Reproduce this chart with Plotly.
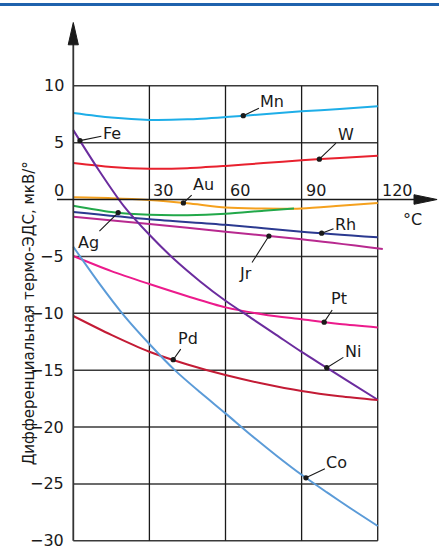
import numpy as np
import plotly.graph_objects as go

# ---------------- data ----------------
x_main = [0, 15, 30, 45, 60, 75, 90, 105, 120]
x_fine = [0, 10, 20, 30, 40, 50, 60, 70, 80, 90, 100, 110, 120]

mn_y = [7.6, 7.2, 7.0, 7.05, 7.25, 7.5, 7.75, 7.95, 8.2]
w_y = [3.2, 2.85, 2.7, 2.75, 2.95, 3.2, 3.45, 3.65, 3.85]
au_y = [0.19, 0.12, -0.04, -0.33, -0.7, -0.8, -0.78, -0.55, -0.3]
ag_x = [0, 15, 30, 45, 60, 75, 87]
ag_y = [-0.55, -1.1, -1.35, -1.38, -1.25, -0.98, -0.78]
rh_x = [0, 30, 60, 90, 120]
rh_y = [-1.1, -1.74, -2.22, -2.83, -3.32]
jr_x = [0, 30, 60, 90, 122]
jr_y = [-1.51, -2.15, -2.83, -3.5, -4.35]
pt_y = [-4.97, -6.3, -7.43, -8.5, -9.48, -10.1, -10.53, -10.95, -11.24]
ni_y = [6.1, 2.6, -0.6, -3.1, -5.3, -7.2, -8.9, -10.4, -11.9, -13.4, -14.8, -16.2, -17.6]
pd_y = [-10.24, -11.9, -13.38, -14.5, -15.43, -16.2, -16.84, -17.3, -17.63]
co_y = [-4.15, -7.3, -10.2, -12.7, -15.0, -16.95, -18.8, -20.7, -22.5, -24.2, -25.75, -27.25, -28.7]

x_ticks = [30, 60, 90, 120]
y_ticks = [10, 5, 0, -5, -10, -15, -20, -25, -30]
y_tick_labels = ["10", "5", "0", "−5", "−10", "−15", "−20", "−25", "−30"]

series = [
    # name, x, y, color, label pos (point x, text x, text y)
    ("Mn", x_main, mn_y, "#1eaee8", (67.0, 78.5, 8.6)),
    ("W", x_main, w_y, "#e8212e", (97.0, 107.3, 5.75)),
    ("Au", x_main, au_y, "#f5a11e", (43.4, 51.3, 1.35)),
    ("Ag", ag_x, ag_y, "#22a84a", (17.7, 5.9, -3.74)),
    ("Rh", rh_x, rh_y, "#2b3990", (97.9, 107.3, -2.18)),
    ("Jr", jr_x, jr_y, "#b8298f", (77.1, 67.7, -6.5)),
    ("Pt", x_main, pt_y, "#ec1b8c", (98.9, 104.9, -8.74)),
    ("Fe", x_fine, ni_y, "#6b2c9e", (2.64, 15.2, 5.76)),
    ("Pd", x_main, pd_y, "#c31b35", (39.4, 45.4, -12.18)),
    ("Co", x_fine, co_y, "#5b9bd8", (91.7, 103.9, -23.16)),
]
# Ni is the same curve as Fe, second label
ni_label = (99.9, 110.2, -13.36)

FONT = "DejaVu Sans"
TXT = "#1a1a1a"

XR = [-6.42, 143.76]
YR = [-30.37, 15.78]

fig = go.Figure()

for name, xs, ys, color, _ in series:
    fig.add_trace(go.Scatter(x=xs, y=ys, mode="lines",
                             line=dict(color=color, width=2, shape="spline", smoothing=0.8),
                             hoverinfo="skip", showlegend=False))

shapes = []
# horizontal grid
for v in y_ticks:
    if v == 0:
        continue
    shapes.append(dict(type="line", xref="x", yref="y", x0=0, x1=120, y0=v, y1=v,
                       line=dict(color="#3a3a3a", width=1.5), layer="below"))
# vertical grid
for v in x_ticks:
    shapes.append(dict(type="line", xref="x", yref="y", x0=v, x1=v, y0=-30, y1=10,
                       line=dict(color="#1a1a1a", width=1.3), layer="below"))
# y axis
shapes.append(dict(type="line", xref="x", yref="y", x0=0, x1=0, y0=-30, y1=14.0,
                   line=dict(color="#333333", width=1.8)))
shapes.append(dict(type="path", xref="x", yref="y",
                   path="M -2.0,13.6 L 0,15.56 L 2.0,13.6 Z",
                   fillcolor="#1a1a1a", line=dict(color="#1a1a1a", width=1)))
# x axis (zero line)
shapes.append(dict(type="line", xref="x", yref="y", x0=-6.4, x1=135, y0=0, y1=0,
                   line=dict(color="#1a1a1a", width=1.6)))
shapes.append(dict(type="path", xref="x", yref="y",
                   path="M 134.3,0.42 L 143.4,0 L 134.3,-0.42 Z",
                   fillcolor="#1a1a1a", line=dict(color="#1a1a1a", width=1)))
# blue band at top
shapes.append(dict(type="rect", xref="paper", yref="paper",
                   x0=-0.2, x1=1.2, y0=1.0265, y1=1.0325,
                   fillcolor="#1f62ad", line=dict(width=0)))

annotations = []
for v, t in zip(y_ticks, y_tick_labels):
    yy = 0.8 if v == 0 else v
    annotations.append(dict(x=-3.0, y=yy, xref="x", yref="y", text=t, showarrow=False,
                            xanchor="right", yanchor="middle",
                            font=dict(family=FONT, size=16, color=TXT)))
for v in x_ticks:
    annotations.append(dict(x=v + 0.8, y=0.75, xref="x", yref="y", text=str(v), showarrow=False,
                            xanchor="left", yanchor="middle",
                            font=dict(family=FONT, size=16, color=TXT)))
annotations.append(dict(x=133.9, y=-1.8, xref="x", yref="y", text="°C", showarrow=False,
                        font=dict(family=FONT, size=16, color=TXT)))

def add_label(name, xs, ys, pos):
    px, tx, ty = pos
    py = float(np.interp(px, xs, ys))
    annotations.append(dict(x=px, y=py, xref="x", yref="y", ax=tx, ay=ty,
                            axref="x", ayref="y", text=name, showarrow=True,
                            arrowhead=6, arrowsize=1.2, arrowwidth=1.1, arrowcolor=TXT,
                            font=dict(family=FONT, size=16, color=TXT)))

for name, xs, ys, color, pos in series:
    add_label(name, xs, ys, pos)
add_label("Ni", x_fine, ni_y, ni_label)

annotations.append(dict(x=-0.1013, y=0.442, xref="paper", yref="paper",
                        text="Дифференциальная термо-ЭДС, мкВ/°", showarrow=False,
                        textangle=-90, font=dict(family=FONT, size=15, color=TXT)))

fig.update_layout(
    width=439, height=549,
    margin=dict(l=57, r=1, t=20, b=4),
    paper_bgcolor="white", plot_bgcolor="white",
    xaxis=dict(range=XR, visible=False, fixedrange=True),
    yaxis=dict(range=YR, visible=False, fixedrange=True),
    shapes=shapes, annotations=annotations,
    showlegend=False,
)

fig.write_html("out.html", config={"displayModeBar": False},
               post_script="document.body.style.margin='0';document.body.style.overflow='hidden';")
